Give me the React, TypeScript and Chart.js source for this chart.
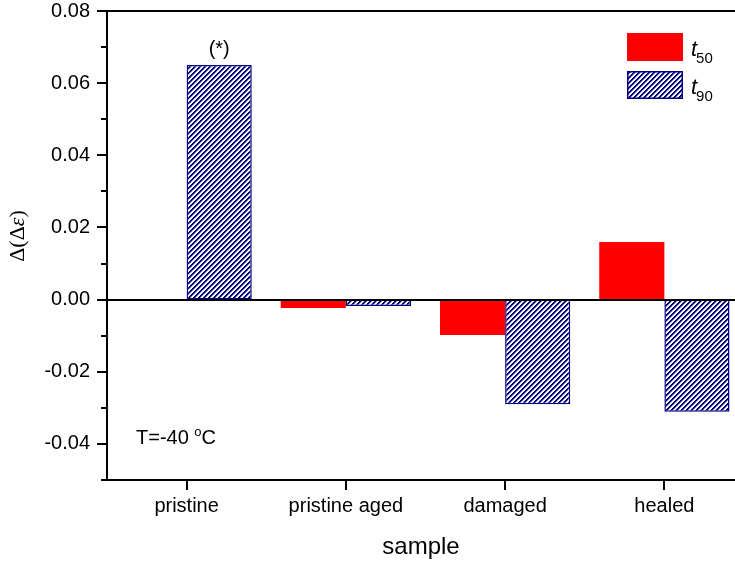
import React, { useEffect, useRef } from "react";
import { Chart, registerables } from "chart.js";

Chart.register(...registerables);

const categories = ["pristine", "pristine aged", "damaged", "healed"];
const t50Values: (number | null)[] = [null, -0.0023, -0.0098, 0.016];
const t90Values: number[] = [0.065, -0.0018, -0.029, -0.0311];
const yMin = -0.05;
const yMax = 0.08;
const yStep = 0.01;

const FONT = "'Liberation Sans', Arial, sans-serif";
const SERIF = "'Liberation Serif', 'Times New Roman', serif";
const NAVY = "#000080";

function makeHatch(): CanvasPattern | string {
  const c = document.createElement("canvas");
  const p = 5;
  c.width = p;
  c.height = p;
  const ctx = c.getContext("2d");
  if (!ctx) return NAVY;
  const img = ctx.createImageData(p, p);
  for (let y = 0; y < p; y++) {
    for (let x = 0; x < p; x++) {
      const i = (y * p + x) * 4;
      const m = (x + y) % p;
      let a = 0;
      if (m === 0 || m === 1) a = 1;
      else if (m === 2) a = 0.45;
      img.data[i] = Math.round(255 * (1 - a));
      img.data[i + 1] = Math.round(255 * (1 - a));
      img.data[i + 2] = Math.round(128 * a + 255 * (1 - a));
      img.data[i + 3] = 255;
    }
  }
  ctx.putImageData(img, 0, 0);
  const pat = ctx.createPattern(c, "repeat");
  return pat || NAVY;
}

export default function App() {
  const ref = useRef<HTMLCanvasElement>(null);
  useEffect(() => {
    if (!ref.current) return;
    const hatch = makeHatch();
    const decor = {
      id: "decor",
      afterDatasetsDraw(chart: any) {
        const ctx = chart.ctx as CanvasRenderingContext2D;
        const area = chart.chartArea;
        const ys = chart.scales.y;
        const xs = chart.scales.x;
        ctx.save();
        ctx.strokeStyle = "#000";
        ctx.lineWidth = 2;
        const y0 = Math.round(ys.getPixelForValue(0));
        ctx.beginPath();
        ctx.moveTo(area.left, y0);
        ctx.lineTo(area.right, y0);
        ctx.stroke();
        ctx.beginPath();
        ctx.moveTo(area.left, area.top);
        ctx.lineTo(area.right, area.top);
        ctx.moveTo(area.left, area.top);
        ctx.lineTo(area.left, area.bottom);
        ctx.moveTo(area.left - 1, area.bottom);
        ctx.lineTo(area.right, area.bottom);
        ctx.stroke();
        for (let k = Math.round(yMin / yStep); k <= Math.round(yMax / yStep); k++) {
          const py = Math.round(ys.getPixelForValue(k * yStep));
          const len = k % 2 === 0 ? 10 : 6;
          ctx.beginPath();
          ctx.moveTo(area.left - len, py);
          ctx.lineTo(area.left, py);
          ctx.stroke();
        }
        for (let i = 0; i < categories.length; i++) {
          const px = Math.round(xs.getPixelForValue(i));
          ctx.beginPath();
          ctx.moveTo(px, area.bottom);
          ctx.lineTo(px, area.bottom + 10);
          ctx.stroke();
        }
        ctx.restore();
      },
      afterDraw(chart: any) {
        const ctx = chart.ctx as CanvasRenderingContext2D;
        const ys = chart.scales.y;
        ctx.save();
        ctx.fillStyle = "#000";
        ctx.save();
        ctx.translate(24, 236);
        ctx.rotate(-Math.PI / 2);
        ctx.textBaseline = "alphabetic";
        const p1 = "\u0394(\u0394";
        const p2 = "\u03B5";
        const p3 = ")";
        ctx.font = `22px ${SERIF}`;
        const w1 = ctx.measureText(p1).width;
        const w3 = ctx.measureText(p3).width;
        ctx.font = `italic 22px ${SERIF}`;
        const w2 = ctx.measureText(p2).width;
        let sx = -(w1 + w2 + w3) / 2;
        ctx.textAlign = "left";
        ctx.font = `22px ${SERIF}`;
        ctx.fillText(p1, sx, 0);
        sx += w1;
        ctx.font = `italic 22px ${SERIF}`;
        ctx.fillText(p2, sx, 0);
        sx += w2;
        ctx.font = `22px ${SERIF}`;
        ctx.fillText(p3, sx, 0);
        ctx.restore();
        ctx.font = `24px ${FONT}`;
        ctx.textAlign = "center";
        ctx.textBaseline = "alphabetic";
        ctx.fillText("sample", 421, 554);
        const meta = chart.getDatasetMeta(1);
        const bar = meta.data[0];
        ctx.font = `20px ${FONT}`;
        ctx.textAlign = "center";
        ctx.fillText("(*)", bar.x, ys.getPixelForValue(t90Values[0]) - 10);
        ctx.textAlign = "left";
        ctx.font = `20px ${FONT}`;
        let tx = 136;
        const base = 444;
        ctx.fillText("T=-40 ", tx, base);
        tx += ctx.measureText("T=-40 ").width;
        ctx.font = `13px ${FONT}`;
        ctx.fillText("o", tx, base - 8);
        tx += ctx.measureText("o").width;
        ctx.font = `20px ${FONT}`;
        ctx.fillText("C", tx, base);
        const lx = 627;
        const lw = 56;
        const lh = 28;
        ctx.fillStyle = "#ff0000";
        ctx.fillRect(lx, 33, lw, lh);
        ctx.fillStyle = hatch as any;
        ctx.fillRect(lx, 71, lw, lh);
        ctx.strokeStyle = NAVY;
        ctx.lineWidth = 1.5;
        ctx.strokeRect(lx + 0.75, 71.75, lw - 1.5, lh - 1.5);
        ctx.fillStyle = "#000";
        const labels = [
          { sub: "50", base: 56 },
          { sub: "90", base: 94 },
        ];
        for (const l of labels) {
          ctx.font = `italic 22px ${FONT}`;
          ctx.fillText("t", 691, l.base);
          const tw = ctx.measureText("t").width;
          ctx.font = `15px ${FONT}`;
          ctx.fillText(l.sub, 691 + tw - 1, l.base + 7);
        }
        ctx.restore();
      },
    };

    const chart = new Chart(ref.current, {
      type: "bar",
      data: {
        labels: categories,
        datasets: [
          {
            label: "t50",
            data: t50Values,
            backgroundColor: "#ff0000",
            borderWidth: 0,
          },
          {
            label: "t90",
            data: t90Values,
            backgroundColor: hatch as any,
            borderColor: NAVY,
            borderWidth: 1.5,
            borderSkipped: false,
          },
        ],
      },
      options: {
        responsive: false,
        animation: false,
        devicePixelRatio: 1,
        layout: { padding: { top: 11, left: 0, right: 0, bottom: 0 } },
        datasets: {
          bar: { categoryPercentage: 0.818, barPercentage: 1 },
        },
        plugins: {
          legend: { display: false },
          tooltip: { enabled: false },
          title: { display: false },
        },
        scales: {
          x: {
            type: "category",
            grid: { display: false, drawTicks: false },
            border: { display: false },
            ticks: {
              color: "#000",
              font: { family: FONT, size: 20 },
              padding: 14,
              maxRotation: 0,
              autoSkip: false,
            },
            afterFit(scale: any) {
              scale.height = 83;
              scale.paddingLeft = 0;
              scale.paddingRight = 0;
            },
          },
          y: {
            type: "linear",
            min: yMin,
            max: yMax,
            grid: { display: false, drawTicks: false },
            border: { display: false },
            ticks: {
              stepSize: yStep,
              color: "#000",
              font: { family: FONT, size: 20 },
              padding: 17,
              autoSkip: false,
              callback: (v: any) => {
                const k = Math.round(Number(v) / yStep);
                if (k % 2 !== 0 || k === Math.round(yMin / yStep)) return "";
                return (k * yStep).toFixed(2);
              },
            },
            afterFit(scale: any) {
              scale.width = 107;
              scale.paddingTop = 0;
              scale.paddingBottom = 0;
            },
          },
        },
      },
      plugins: [decor],
    });
    return () => chart.destroy();
  }, []);

  return (
    <div
      style={{
        position: "fixed",
        left: 0,
        top: 0,
        width: 735,
        height: 563,
        overflow: "hidden",
        background: "#fff",
      }}
    >
      <canvas ref={ref} width={744} height={563} style={{ display: "block" }} />
    </div>
  );
}
